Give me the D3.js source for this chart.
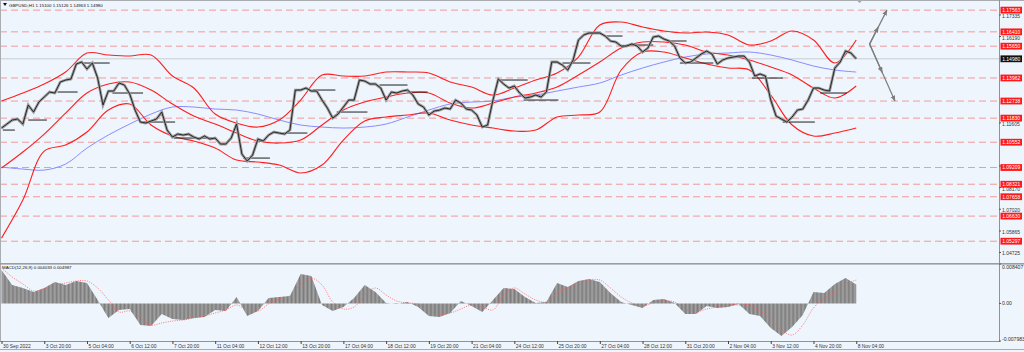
<!DOCTYPE html>
<html><head><meta charset="utf-8">
<script src="https://cdn.jsdelivr.net/npm/d3@7"></script>
<style>
body{margin:0;background:#eef5fd;}
svg{display:block;font-family:"Liberation Sans",Arial,sans-serif;}
</style>
</head><body>
<svg id="c" width="1024" height="352"></svg>
<script>
// ---------------- DATA ----------------
const chartTitle = "GBPUSD,H1  1.15100 1.15126 1.14963 1.14980";
const macdTitle = "MACD(12,26,9) 0.004033 0.004987";
const timeLabels = ["30 Sep 2022","3 Oct 20:00","5 Oct 04:00","6 Oct 12:00","7 Oct 20:00","11 Oct 04:00","12 Oct 12:00","13 Oct 20:00","17 Oct 04:00","18 Oct 12:00","19 Oct 20:00","21 Oct 04:00","24 Oct 12:00","25 Oct 20:00","27 Oct 04:00","28 Oct 12:00","31 Oct 20:00","2 Nov 04:00","3 Nov 12:00","4 Nov 20:00","8 Nov 04:00"];
const timeLabelStep = 32;      // bars between time labels
const lastBar = 641;

const priceStep = 4;           // bars between price samples
const closes = [1.11304,1.11517,1.11729,1.11782,1.11517,1.12526,1.12154,1.12685,1.12950,1.13216,
1.13163,1.13747,1.13853,1.13906,1.14703,1.14809,1.14437,1.14756,1.13959,1.12526,
1.13269,1.13269,1.13694,1.13588,1.13110,1.12260,1.11623,1.11570,1.11676,1.11782,
1.12154,1.11198,1.10826,1.10986,1.10933,1.10986,1.10826,1.10720,1.10879,1.10720,
1.10773,1.10455,1.10455,1.10773,1.11517,1.09924,1.09552,1.09871,1.10720,1.10614,
1.10933,1.11092,1.11039,1.10986,1.11198,1.13322,1.13322,1.13428,1.13269,1.13269,
1.12791,1.12366,1.11835,1.12048,1.12419,1.12791,1.12791,1.13853,1.13800,1.13641,
1.13641,1.13428,1.12791,1.13216,1.13163,1.13269,1.13322,1.13057,1.12579,1.12419,
1.11995,1.12207,1.12260,1.12366,1.12313,1.12791,1.12632,1.12313,1.12260,1.11995,
1.11357,1.11464,1.12791,1.13906,1.13641,1.13428,1.13534,1.13163,1.12897,1.12950,
1.13057,1.12950,1.13216,1.14809,1.14809,1.14650,1.14384,1.14915,1.15977,1.16243,
1.16349,1.16349,1.16349,1.16189,1.15924,1.15871,1.15658,1.15658,1.15765,1.15658,
1.15340,1.15552,1.16136,1.16189,1.16030,1.15924,1.15658,1.15021,1.14756,1.14809,
1.15021,1.15234,1.15393,1.15234,1.14703,1.14915,1.15021,1.15074,1.15127,1.15127,
1.14809,1.14065,1.14172,1.14065,1.12791,1.11941,1.11782,1.11623,1.11888,1.12260,
1.12313,1.12791,1.13428,1.13428,1.13322,1.13269,1.14490,1.14809,1.15393,1.15287,
1.14980];

const bandStep = 16;           // bars between indicator samples
const bbUpper = [1.12738,1.13163,1.13641,1.14278,1.15287,1.15181,1.15127,1.15181,1.14065,1.13428,
1.12048,1.11570,1.11357,1.11729,1.12791,1.14119,1.14065,1.14065,1.14278,1.14278,
1.14225,1.13747,1.13481,1.13057,1.13428,1.13853,1.14225,1.15074,1.16774,1.16933,
1.16667,1.16455,1.16349,1.16402,1.16243,1.15712,1.15924,1.16455,1.15977,1.14756,1.15977];
const bbMiddle = [1.09180,1.10030,1.10986,1.12101,1.13163,1.13641,1.13747,1.13322,1.12579,1.11941,
1.11517,1.11039,1.10614,1.10508,1.10667,1.11464,1.12260,1.12685,1.12950,1.13163,
1.13163,1.12632,1.12366,1.12632,1.12950,1.13163,1.13481,1.14119,1.14809,1.15552,
1.15871,1.15871,1.15712,1.15340,1.15181,1.14915,1.14543,1.14119,1.13428,1.12897,1.13534];
const bbLower = [1.05463,1.07481,1.10083,1.10402,1.11092,1.12260,1.12579,1.11464,1.10879,1.10614,
1.10242,1.09605,1.09499,1.09340,1.08915,1.09340,1.10667,1.11676,1.11888,1.11995,
1.12101,1.11729,1.11464,1.11304,1.11145,1.11198,1.11888,1.11995,1.12154,1.14384,
1.15340,1.15340,1.15021,1.14703,1.14490,1.14384,1.13057,1.11464,1.10879,1.11039,1.11304];
const maSlow = [1.09233,1.09127,1.09074,1.09393,1.10242,1.10933,1.11517,1.12048,1.12419,1.12419,
1.12313,1.12260,1.12048,1.11729,1.11464,1.11357,1.11304,1.11357,1.11517,1.11888,
1.12260,1.12579,1.12685,1.12738,1.12950,1.13057,1.13269,1.13481,1.13694,1.14119,
1.14490,1.14809,1.15074,1.15234,1.15287,1.15340,1.15181,1.14915,1.14596,1.14384,1.14278];

const macdStep = 8;
const macdHist = [0.00713,0.00394,0.00330,0.00245,0.00330,0.00458,0.00394,0.00479,0.00436,0.00075,
-0.00309,-0.00138,-0.00117,-0.00458,-0.00479,-0.00224,-0.00330,-0.00351,-0.00309,-0.00287,
-0.00138,-0.00160,0.00138,-0.00266,-0.00160,0.00117,0.00138,0.00160,0.00628,0.00585,
-0.00032,-0.00160,-0.00075,0.00117,0.00394,0.00245,0.00011,-0.00011,0.00032,-0.00075,
-0.00266,-0.00287,-0.00202,0.00053,-0.00053,-0.00181,0.00075,0.00330,0.00309,0.00138,
0.00011,0.00032,0.00436,0.00351,0.00479,0.00522,0.00458,0.00224,0.00032,-0.00032,
-0.00096,0.00075,0.00096,0.00011,-0.00224,-0.00224,-0.00053,-0.00096,-0.00075,-0.00011,
-0.00224,-0.00266,-0.00522,-0.00692,-0.00500,-0.00245,0.00245,0.00224,0.00415,0.00543,0.00403];
const macdSignal = [0.00756,0.00564,0.00415,0.00266,0.00309,0.00394,0.00436,0.00479,0.00479,0.00330,
0.00075,-0.00181,-0.00160,-0.00309,-0.00458,-0.00415,-0.00373,-0.00351,-0.00309,-0.00266,
-0.00202,-0.00138,-0.00032,-0.00138,-0.00160,-0.00011,0.00096,0.00160,0.00415,0.00543,
0.00394,0.00032,-0.00117,-0.00075,0.00181,0.00330,0.00181,0.00053,0.00011,-0.00011,
-0.00138,-0.00224,-0.00202,-0.00117,-0.00032,-0.00075,-0.00138,0.00181,0.00330,0.00202,
0.00075,0.00032,0.00224,0.00330,0.00436,0.00500,0.00500,0.00330,0.00138,0.00011,
-0.00053,0.00011,0.00053,0.00032,-0.00117,-0.00181,-0.00117,-0.00075,-0.00032,-0.00032,
-0.00032,-0.00160,-0.00330,-0.00564,-0.00671,-0.00458,-0.00096,0.00117,0.00224,0.00415,0.00499];
const macdAxisValues = [0.008407, 0, -0.007983];
const macdAxisLabels = ["0.008407","0.00","-0.007983"];

const levelPrices = [1.17563,1.16410,1.15650,1.13962,1.12738,1.11830,1.10552,1.09209,1.08321,1.07658,1.06630,1.05297];
// grid price ticks that stay visible beside the level labels
const axisTicks = [1.17335,1.16190,1.11605,1.09315,1.08170,1.07020,1.05865,1.04725];
const currentPrice = 1.14980;

const srStart = [1,20,42,59,83,106,129,181,211,233,251,283,304,371,391,420,453,468,498,508,562,585,613];
const srEnd   = [10,34,57,81,106,130,158,201,229,250,274,304,319,394,417,441,465,488,513,533,585,609,633];
const srPrice = [1.11198,1.11729,1.13216,1.14756,1.13163,1.11623,1.10773,1.09711,1.11039,1.13322,1.12154,1.13588,1.13216,1.13853,1.12791,1.14756,1.16189,1.15712,1.15924,1.14756,1.13959,1.11623,1.13163];

const arrowOriginBar = 650, arrowOriginPrice = 1.15760;
const arrowTargetBars = [663, 669];
const arrowTargetPrices = [1.17563, 1.12738];

// ---------------- LAYOUT ----------------
const W = 1024, H = 352;
const axisX = 999;
const mainTop = 0, mainBottom = 263;
const macdTop = 264, macdBottom = 341;
const svg = d3.select("#c");

const x = d3.scaleLinear().domain([0, lastBar]).range([1.5, 1.5 + lastBar * 1.3355]);
const y = d3.scaleLinear().domain([1.04194, 1.18101]).range([262, 0]);
const ym = d3.scaleLinear().domain([-0.007983, 0.008407]).range([macdBottom, macdTop]);

svg.append("rect").attr("width", W).attr("height", H).attr("fill", "#eef5fd");

const defs = svg.append("defs");
defs.append("clipPath").attr("id","clipMain").append("rect").attr("x",0).attr("y",mainTop).attr("width",axisX).attr("height",mainBottom-mainTop);
defs.append("clipPath").attr("id","clipMacd").append("rect").attr("x",0).attr("y",macdTop).attr("width",axisX).attr("height",macdBottom-macdTop);
const pat = defs.append("pattern").attr("id","stripes").attr("patternUnits","userSpaceOnUse").attr("width",1.3355).attr("height",4);
pat.append("rect").attr("width",1.3355).attr("height",4).attr("fill","#b4b4b4");
pat.append("rect").attr("width",0.85).attr("height",4).attr("fill","#7c7c7c");
defs.append("marker").attr("id","arrowHead").attr("viewBox","0 0 10 10").attr("refX",9).attr("refY",5)
  .attr("markerWidth",5).attr("markerHeight",5).attr("orient","auto")
  .append("path").attr("d","M0,1 L10,5 L0,9 Z").attr("fill","#7d7d7d");

const gMain = svg.append("g").attr("clip-path","url(#clipMain)");

// dashed level lines
gMain.selectAll("line.lvl").data(levelPrices).join("line").attr("class","lvl")
  .attr("x1",0).attr("x2",axisX).attr("y1",d=>y(d)).attr("y2",d=>y(d))
  .attr("stroke","#f29a9a").attr("stroke-width",1).attr("stroke-dasharray","7,4");

// bid line
gMain.append("line").attr("x1",0).attr("x2",axisX).attr("y1",y(currentPrice)).attr("y2",y(currentPrice))
  .attr("stroke","#c9cdd2").attr("stroke-width",1);

// indicator lines
const bandLine = d3.line().x((d,i)=>x(i*bandStep)).y(d=>y(d)).curve(d3.curveCatmullRom.alpha(0.5));
gMain.append("path").attr("d", bandLine(maSlow)).attr("fill","none").attr("stroke","#8a8cff").attr("stroke-width",1);
[bbUpper, bbMiddle, bbLower].forEach(arr=>{
  gMain.append("path").attr("d", bandLine(arr)).attr("fill","none").attr("stroke","#ff1e1e").attr("stroke-width",1.1);
});

// support/resistance segments
gMain.selectAll("line.sr").data(srPrice).join("line").attr("class","sr")
  .attr("x1",(d,i)=>x(srStart[i])).attr("x2",(d,i)=>x(srEnd[i]))
  .attr("y1",d=>y(d)).attr("y2",d=>y(d)).attr("stroke","#1e1e1e").attr("stroke-width",1);

// price (dense candles look: grey body halo + dark core)
const priceLine = d3.line().x((d,i)=>x(i*priceStep)).y(d=>y(d));
gMain.append("path").attr("d", priceLine(closes)).attr("fill","none").attr("stroke","#9c9c9c").attr("stroke-width",2.8).attr("stroke-linejoin","miter");
gMain.append("path").attr("d", priceLine(closes)).attr("fill","none").attr("stroke","#1c1c1c").attr("stroke-width",0.9);

// projection arrows
arrowTargetBars.forEach((b,i)=>{
  const x0 = x(arrowOriginBar), y0 = y(arrowOriginPrice), x1 = x(b), y1 = y(arrowTargetPrices[i]);
  gMain.append("line").attr("x1",x0).attr("y1",y0).attr("x2",x1).attr("y2",y1)
    .attr("stroke","#7d7d7d").attr("stroke-width",1.2).attr("marker-end","url(#arrowHead)");
  gMain.append("path").attr("d", `M${x0},${y0} L${(x0+x1)/2},${(y0+y1)/2}`).attr("stroke","#7d7d7d").attr("stroke-width",1.2).attr("marker-end","url(#arrowHead)");
});

// shift marker triangle at top
const sx = x(lastBar) + 2;
svg.append("path").attr("d",`M${sx-3},0 L${sx+3},0 L${sx},3 Z`).attr("fill","#a0a0a0");

// title
svg.append("path").attr("d","M3,3 L7,3 L5,6 Z").attr("fill","#111");
svg.append("text").attr("x",9).attr("y",6.8).attr("font-size",4.4).attr("fill","#111").text(chartTitle);

// ---------------- MACD ----------------
const gM = svg.append("g").attr("clip-path","url(#clipMacd)");
const histArea = d3.area().x((d,i)=>x(i*macdStep)).y0(ym(0)).y1(d=>ym(d));
gM.append("path").attr("d", histArea(macdHist)).attr("fill","url(#stripes)");
const sigLine = d3.line().x((d,i)=>x(i*macdStep)).y(d=>ym(d)).curve(d3.curveCatmullRom);
gM.append("path").attr("d", sigLine(macdSignal)).attr("fill","none").attr("stroke","#ff5a5a").attr("stroke-width",0.8).attr("stroke-dasharray","1,1.3");
svg.append("text").attr("x",2).attr("y",268.5).attr("font-size",4.4).attr("fill","#111").text(macdTitle);

// ---------------- FRAMES ----------------
svg.append("line").attr("x1",0).attr("x2",W).attr("y1",0.5).attr("y2",0.5).attr("stroke","#a9adb2");
svg.append("line").attr("x1",0.5).attr("x2",0.5).attr("y1",0).attr("y2",macdBottom).attr("stroke","#a9adb2");
svg.append("line").attr("x1",axisX+0.5).attr("x2",axisX+0.5).attr("y1",0).attr("y2",macdBottom).attr("stroke","#8f9398");
svg.append("rect").attr("x",0).attr("y",mainBottom).attr("width",W).attr("height",1.6).attr("fill","#9a9ea3");
svg.append("line").attr("x1",0).attr("x2",axisX+1).attr("y1",macdBottom+0.5).attr("y2",macdBottom+0.5).attr("stroke","#8f9398");
svg.append("line").attr("x1",0).attr("x2",W).attr("y1",349.5).attr("y2",349.5).attr("stroke","#a9adb2");

// ---------------- AXES ----------------
const yAxis = d3.axisRight(y).tickValues(axisTicks).tickSize(2).tickFormat(d3.format(".5f"));
const gy = svg.append("g").attr("transform",`translate(${axisX},0)`).call(yAxis);
gy.select(".domain").remove();
gy.selectAll("line").attr("stroke","#555");
gy.selectAll("text").attr("font-size",5.0).attr("fill","#333").attr("x",3).attr("dy","0.6em").attr("font-family","Liberation Sans, Arial, sans-serif");

// red level labels
const lab = svg.append("g");
levelPrices.forEach(p=>{
  lab.append("rect").attr("x",axisX+1.5).attr("y",y(p)-3.4).attr("width",21.5).attr("height",6.8).attr("fill","#ff1a1a");
  lab.append("text").attr("x",axisX+12.2).attr("y",y(p)+1.8).attr("text-anchor","middle").attr("font-size",5.0).attr("fill","#fff").text(d3.format(".5f")(p));
});
lab.append("rect").attr("x",axisX+1.5).attr("y",y(currentPrice)-3.4).attr("width",21.5).attr("height",6.8).attr("fill","#111");
lab.append("text").attr("x",axisX+12.2).attr("y",y(currentPrice)+1.8).attr("text-anchor","middle").attr("font-size",5.0).attr("fill","#fff").text(d3.format(".5f")(currentPrice));

// MACD axis labels
const gmA = svg.append("g");
macdAxisValues.forEach((v,i)=>{
  const yy = ym(v);
  gmA.append("line").attr("x1",axisX).attr("x2",axisX+2).attr("y1",yy).attr("y2",yy).attr("stroke","#555");
  const dy = i===0 ? 4.5 : (i===2 ? -0.5 : 1.9);
  gmA.append("text").attr("x",axisX+3).attr("y",yy+dy).attr("font-size",5.1).attr("fill","#333").text(macdAxisLabels[i]);
});

// time axis
const tickBars = timeLabels.map((t,i)=>i*timeLabelStep);
const xAxis = d3.axisBottom(x).tickValues(tickBars).tickSize(3).tickFormat((d,i)=>timeLabels[i]);
const gx = svg.append("g").attr("transform",`translate(0,${macdBottom})`).call(xAxis);
gx.select(".domain").remove();
gx.selectAll("line").attr("stroke","#444");
gx.selectAll("text").attr("text-anchor","start").attr("font-size",4.9).attr("fill","#333").attr("dx",1).attr("y",4).attr("dy","0.71em").attr("font-family","Liberation Sans, Arial, sans-serif");
</script>
</body></html>
